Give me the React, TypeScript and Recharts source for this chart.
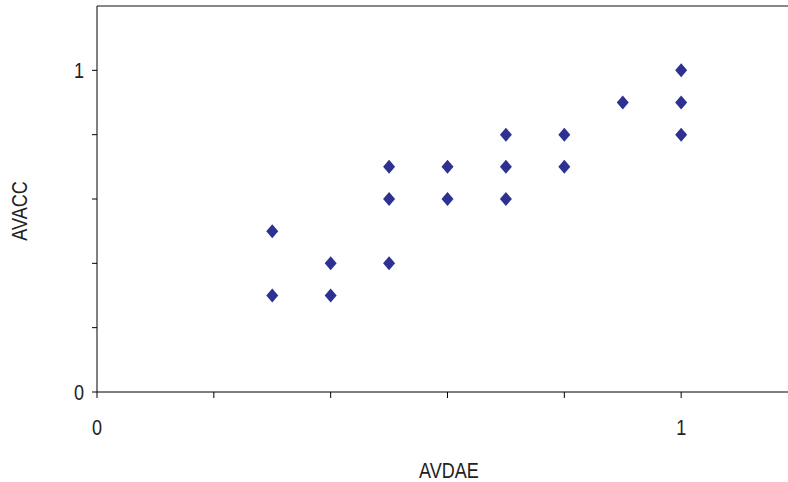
import React from "react";
import * as Recharts from "recharts";
import {
  ScatterChart,
  Scatter,
  XAxis,
  YAxis,
} from "recharts";

const avdae = [0.3, 0.3, 0.4, 0.4, 0.5, 0.5, 0.5, 0.6, 0.6, 0.7, 0.7, 0.7, 0.8, 0.8, 0.9, 1.0, 1.0, 1.0];
const avacc = [0.5, 0.3, 0.4, 0.3, 0.7, 0.6, 0.4, 0.7, 0.6, 0.8, 0.7, 0.6, 0.8, 0.7, 0.9, 1.0, 0.9, 0.8];
const axisTicks = [0, 0.2, 0.4, 0.6, 0.8, 1.0];

const data = avdae.map((x, i) => ({ x, y: avacc[i] }));

const FONT = "'Liberation Sans', Arial, sans-serif";
const FS = 22;
const SQUEEZE = 0.82; // the original font is a narrow Arial

const usePlotArea: () => any = (Recharts as any).usePlotArea || (() => null);

// text drawn squeezed horizontally around (x, y)
const NarrowText = ({ x, y, anchor, rotate = 0, children }: any) => (
  <g transform={`translate(${x},${y}) rotate(${rotate}) scale(${SQUEEZE},1)`}>
    <text x={0} y={0} textAnchor={anchor} fontFamily={FONT} fontSize={FS} fill="#222">
      {children}
    </text>
  </g>
);

// grey frame line along the top of the plot area
const TopBorder = () => {
  const area = usePlotArea();
  const x = area ? area.x : 97;
  const y = area ? area.y : 6;
  const w = area ? area.width : 701;
  return <line x1={x} y1={y} x2={x + w} y2={y} stroke="#888" strokeWidth={2} />;
};

const Diamond = (props: any) => {
  const { cx, cy } = props;
  if (cx == null || cy == null) return null;
  return (
    <polygon
      points={`${cx},${cy - 7} ${cx + 6},${cy} ${cx},${cy + 7} ${cx - 6},${cy}`}
      fill="#2E3192"
    />
  );
};

const XTick = (props: any) => {
  const { x, payload } = props;
  const v = payload.value;
  if (v !== 0 && v !== 1) return null;
  return <NarrowText x={x} y={435} anchor="middle">{v}</NarrowText>;
};

const YTick = (props: any) => {
  const { y, payload } = props;
  const v = payload.value;
  if (v !== 0 && v !== 1) return null;
  return <NarrowText x={84} y={y + 8} anchor="end">{v}</NarrowText>;
};

const XLabel = () => <NarrowText x={449} y={478} anchor="middle">AVDAE</NarrowText>;

const YLabel = () => <NarrowText x={27} y={211} anchor="middle" rotate={-90}>AVACC</NarrowText>;

export default function App() {
  return (
    <div
      style={{
        position: "fixed",
        left: 0,
        top: 0,
        width: 788,
        height: 482,
        overflow: "hidden",
        background: "#fff",
      }}
    >
      <ScatterChart width={800} height={482} margin={{ top: 6, right: 2, bottom: 0, left: 0 }}>
        <XAxis
          type="number"
          dataKey="x"
          domain={[0, 1.2]}
          ticks={axisTicks}
          tick={<XTick />}
          tickSize={6}
          stroke="#000"
          height={90}
          label={<XLabel />}
        />
        <YAxis
          type="number"
          dataKey="y"
          domain={[0, 1.2]}
          ticks={axisTicks}
          tick={<YTick />}
          tickSize={5}
          stroke="#000"
          width={97}
          label={<YLabel />}
        />
        <TopBorder />
        <Scatter data={data} shape={<Diamond />} isAnimationActive={false} />
      </ScatterChart>
    </div>
  );
}
